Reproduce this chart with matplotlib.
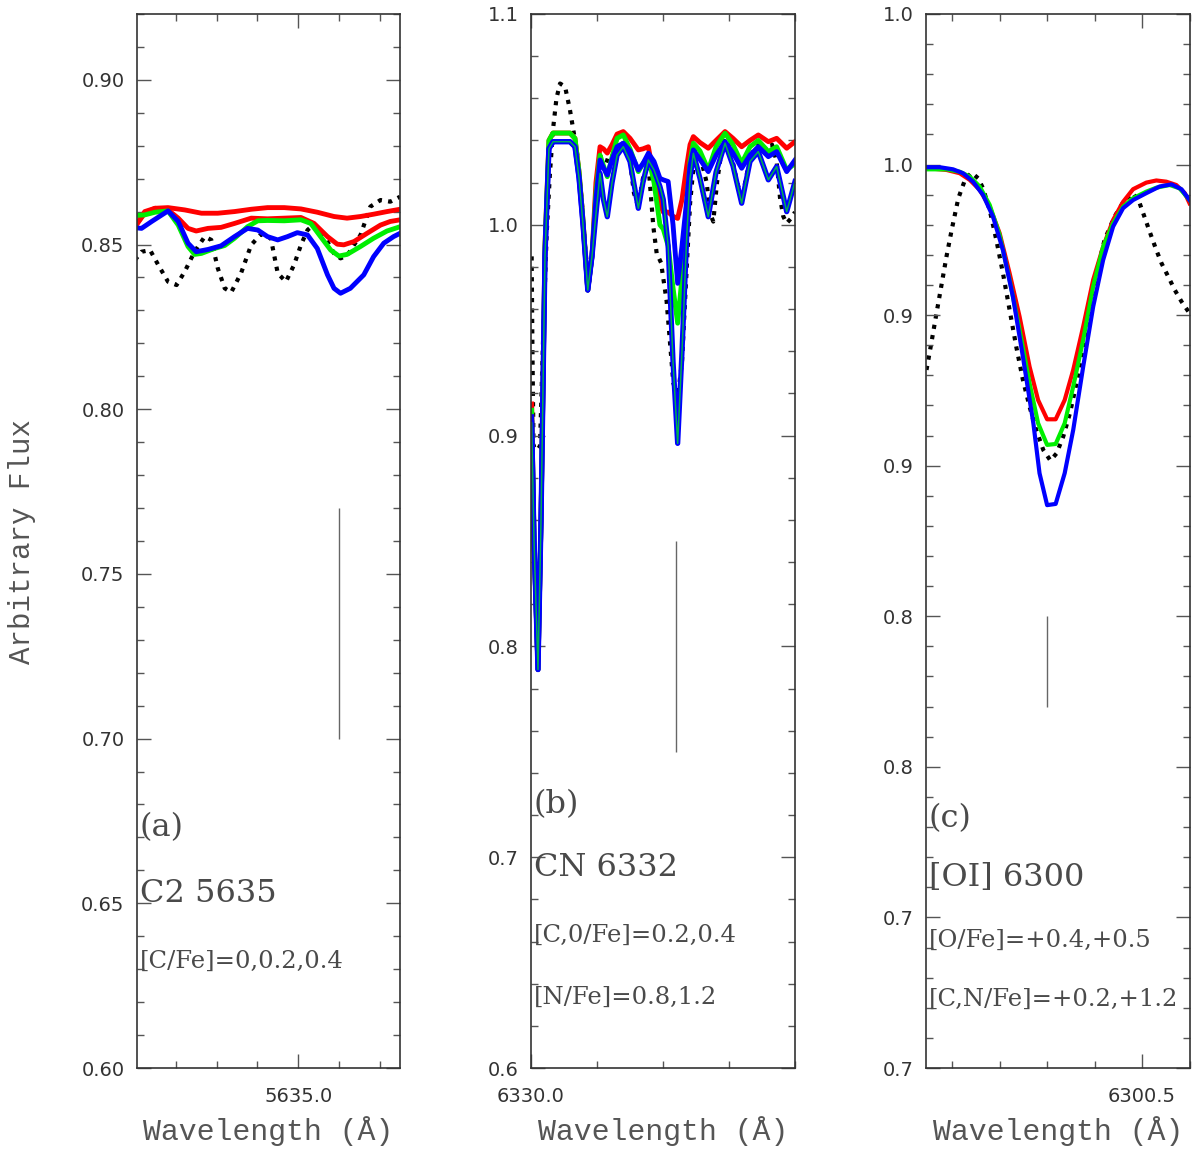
import numpy as np
import matplotlib
matplotlib.use('Agg')
import matplotlib.pyplot as plt
from matplotlib.ticker import MultipleLocator, FixedLocator, FixedFormatter, FormatStrFormatter

# ---------------- panel (a): C2 5635 ----------------
wave_a_red1 = [5634.600, 5634.624, 5634.649, 5634.681, 5634.722, 5634.763, 5634.803, 5634.844, 5634.885, 5634.925,
               5634.966, 5635.007, 5635.047, 5635.088, 5635.120, 5635.153, 5635.185, 5635.218, 5635.250]
flux_a_red1 = [0.8554, 0.8595, 0.8610, 0.8612, 0.8605, 0.8595, 0.8595, 0.8600, 0.8607, 0.8612,
               0.8612, 0.8608, 0.8598, 0.8585, 0.8580, 0.8585, 0.8592, 0.8600, 0.8607]

wave_a_red2 = [5634.600, 5634.624, 5634.649, 5634.681, 5634.706, 5634.730, 5634.750, 5634.779, 5634.811, 5634.844,
               5634.885, 5634.925, 5634.966, 5635.007, 5635.039, 5635.072, 5635.096, 5635.112, 5635.137, 5635.169,
               5635.202, 5635.226, 5635.250]
flux_a_red2 = [0.8554, 0.8600, 0.8610, 0.8605, 0.8580, 0.8549, 0.8541, 0.8549, 0.8552, 0.8564,
               0.8580, 0.8578, 0.8580, 0.8582, 0.8564, 0.8524, 0.8501, 0.8499, 0.8509, 0.8534,
               0.8559, 0.8570, 0.8575]

wave_a_green = [5634.600, 5634.624, 5634.649, 5634.681, 5634.706, 5634.730, 5634.746, 5634.763, 5634.795, 5634.820,
                5634.844, 5634.876, 5634.901, 5634.925, 5634.966, 5635.007, 5635.031, 5635.055, 5635.080, 5635.100,
                5635.120, 5635.153, 5635.185, 5635.218, 5635.250]
flux_a_green = [0.8588, 0.8590, 0.8598, 0.8602, 0.8559, 0.8494, 0.8470, 0.8473, 0.8488, 0.8497,
                0.8519, 0.8554, 0.8572, 0.8573, 0.8572, 0.8575, 0.8564, 0.8524, 0.8483, 0.8465,
                0.8470, 0.8494, 0.8519, 0.8541, 0.8554]

wave_a_blue = [5634.600, 5634.616, 5634.641, 5634.681, 5634.706, 5634.730, 5634.750, 5634.779, 5634.811, 5634.844,
               5634.876, 5634.901, 5634.925, 5634.950, 5634.974, 5634.998, 5635.023, 5635.047, 5635.072, 5635.088,
               5635.104, 5635.128, 5635.161, 5635.185, 5635.210, 5635.234, 5635.250]
flux_a_blue = [0.8551, 0.8549, 0.8570, 0.8602, 0.8570, 0.8504, 0.8478, 0.8485, 0.8496, 0.8524,
               0.8549, 0.8544, 0.8524, 0.8514, 0.8524, 0.8536, 0.8529, 0.8488, 0.8408, 0.8367,
               0.8352, 0.8367, 0.8408, 0.8463, 0.8504, 0.8524, 0.8534]

wave_a_obs = [5634.600, 5634.616, 5634.637, 5634.657, 5634.681, 5634.702, 5634.722, 5634.746, 5634.771, 5634.787,
              5634.803, 5634.820, 5634.836, 5634.860, 5634.885, 5634.909, 5634.933, 5634.950, 5634.970, 5634.990,
              5635.007, 5635.023, 5635.039, 5635.063, 5635.088, 5635.104, 5635.120, 5635.153, 5635.177, 5635.202,
              5635.226, 5635.250]
flux_a_obs = [0.8453, 0.8478, 0.8483, 0.8438, 0.8387, 0.8377, 0.8418, 0.8478, 0.8524, 0.8514,
              0.8428, 0.8367, 0.8355, 0.8413, 0.8499, 0.8531, 0.8519, 0.8413, 0.8387, 0.8438,
              0.8499, 0.8544, 0.8561, 0.8529, 0.8473, 0.8458, 0.8466, 0.8529, 0.8615, 0.8635,
              0.8630, 0.8645]

# ---------------- panel (b): CN 6332 ----------------
wave_b = [6330.005, 6330.023, 6330.053, 6330.076, 6330.106, 6330.136, 6330.167, 6330.220, 6330.295, 6330.333,
          6330.364, 6330.394, 6330.430, 6330.462, 6330.492, 6330.523, 6330.549, 6330.578, 6330.614, 6330.652,
          6330.699, 6330.750, 6330.813, 6330.848, 6330.889, 6330.932, 6330.977, 6331.002, 6331.039, 6331.076,
          6331.111, 6331.144, 6331.180, 6331.205, 6331.230, 6331.280, 6331.343, 6331.402, 6331.470, 6331.530,
          6331.596, 6331.659, 6331.722, 6331.798, 6331.861, 6331.937, 6332.000]
flux_b_red = [0.915, 0.850, 0.789, 0.860, 0.990, 1.040, 1.0435, 1.0435, 1.0435, 1.041,
              1.025, 1.002, 0.969, 0.985, 1.020, 1.037, 1.036, 1.034, 1.038, 1.043,
              1.0442, 1.041, 1.0355, 1.036, 1.037, 1.022, 1.010, 1.006, 1.006, 1.004,
              1.003, 1.012, 1.028, 1.038, 1.0418, 1.039, 1.0363, 1.040, 1.0442, 1.041,
              1.037, 1.040, 1.0426, 1.0394, 1.041, 1.0363, 1.0394]
flux_b_green = [0.912, 0.850, 0.789, 0.860, 0.990, 1.040, 1.0435, 1.0435, 1.0435, 1.041,
                1.025, 1.002, 0.969, 0.985, 1.015, 1.033, 1.028, 1.0228, 1.032, 1.041,
                1.0426, 1.036, 1.0252, 1.029, 1.0323, 1.020, 0.9999, 0.998, 0.990, 0.970,
                0.9533, 0.975, 1.010, 1.030, 1.0387, 1.035, 1.026, 1.037, 1.0434, 1.038,
                1.0292, 1.037, 1.040, 1.0347, 1.037, 1.026, 1.029]
flux_b_blue = [0.909, 0.850, 0.789, 0.860, 0.985, 1.036, 1.0394, 1.0394, 1.0394, 1.037,
               1.022, 1.000, 0.969, 0.985, 1.012, 1.0307, 1.027, 1.0236, 1.031, 1.037,
               1.0387, 1.035, 1.026, 1.029, 1.0339, 1.030, 1.022, 1.0213, 1.0205, 1.000,
               0.9722, 0.990, 1.0118, 1.028, 1.0355, 1.031, 1.0252, 1.033, 1.0394, 1.034,
               1.0268, 1.033, 1.037, 1.0323, 1.0347, 1.0252, 1.0307]
flux_b_low = [0.906, 0.850, 0.789, 0.860, 0.985, 1.036, 1.0394, 1.0394, 1.0394, 1.037,
              1.022, 1.000, 0.969, 0.985, 1.005, 1.0244, 1.012, 1.0038, 1.020, 1.033,
              1.037, 1.030, 1.0078, 1.020, 1.0307, 1.026, 1.0181, 1.012, 0.990, 0.935,
              0.8963, 0.940, 0.995, 1.022, 1.0339, 1.022, 1.0038, 1.025, 1.0387, 1.028,
              1.0102, 1.030, 1.0347, 1.0213, 1.0276, 1.0062, 1.0205]

wave_b_obs = [6330.005, 6330.011, 6330.019, 6330.045, 6330.068, 6330.093, 6330.119, 6330.144, 6330.169, 6330.193,
              6330.220, 6330.258, 6330.295, 6330.346, 6330.384, 6330.409, 6330.439, 6330.470, 6330.498, 6330.548,
              6330.598, 6330.652, 6330.699, 6330.750, 6330.780, 6330.813, 6330.848, 6330.889, 6330.927, 6330.952,
              6330.985, 6331.027, 6331.078, 6331.111, 6331.144, 6331.180, 6331.205, 6331.242, 6331.280, 6331.331,
              6331.356, 6331.381, 6331.409, 6331.445, 6331.470, 6331.508, 6331.558, 6331.596, 6331.629, 6331.659,
              6331.722, 6331.786, 6331.826, 6331.861, 6331.886, 6331.911, 6331.937, 6331.970, 6332.000]
flux_b_obs = [0.985, 0.940, 0.895, 0.893, 0.895, 0.949, 0.996, 1.025, 1.0465, 1.060,
              1.067, 1.0655, 1.0545, 1.0355, 1.012, 0.990, 0.972, 0.990, 1.015, 1.031,
              1.030, 1.038, 1.040, 1.030, 1.015, 1.0086, 1.022, 1.029, 0.999, 0.9865,
              0.982, 0.964, 0.925, 0.918, 0.935, 0.980, 1.010, 1.035, 1.033, 1.020,
              1.0055, 1.0015, 1.020, 1.0355, 1.041, 1.036, 1.021, 1.012, 1.022, 1.032,
              1.039, 1.0355, 1.038, 1.030, 1.013, 1.004, 1.0007, 1.003, 1.006]

# ---------------- panel (c): [OI] 6300 ----------------
wave_c_red = [6300.046, 6300.088, 6300.116, 6300.137, 6300.158, 6300.179, 6300.200, 6300.221, 6300.242, 6300.263,
              6300.281, 6300.300, 6300.318, 6300.337, 6300.355, 6300.376, 6300.397, 6300.418, 6300.439, 6300.460,
              6300.481, 6300.509, 6300.530, 6300.551, 6300.572, 6300.590, 6300.600]
flux_c_red = [0.9988, 0.9982, 0.9971, 0.9949, 0.9916, 0.9860, 0.9772, 0.9639, 0.9495, 0.9329,
              0.9218, 0.9154, 0.9154, 0.9218, 0.9318, 0.9462, 0.9617, 0.9727, 0.9816, 0.9876,
              0.9918, 0.9940, 0.9947, 0.9943, 0.9932, 0.9905, 0.9871]

wave_c_green = [6300.046, 6300.088, 6300.116, 6300.137, 6300.158, 6300.179, 6300.200, 6300.221, 6300.242, 6300.263,
                6300.281, 6300.300, 6300.318, 6300.337, 6300.355, 6300.376, 6300.397, 6300.418, 6300.439, 6300.460,
                6300.481, 6300.509, 6300.530, 6300.558, 6300.579, 6300.600]
flux_c_green = [0.9984, 0.9984, 0.9976, 0.9960, 0.9927, 0.9866, 0.9766, 0.9617, 0.9451, 0.9274,
                0.9141, 0.9069, 0.9072, 0.9141, 0.9263, 0.9418, 0.9595, 0.9727, 0.9805, 0.9860,
                0.9888, 0.9910, 0.9923, 0.9932, 0.9921, 0.9882]

wave_c_blue = [6300.046, 6300.074, 6300.102, 6300.123, 6300.144, 6300.165, 6300.186, 6300.207, 6300.228, 6300.249,
               6300.271, 6300.284, 6300.300, 6300.318, 6300.337, 6300.355, 6300.376, 6300.397, 6300.418, 6300.439,
               6300.460, 6300.481, 6300.509, 6300.537, 6300.562, 6300.583, 6300.600]
flux_c_blue = [0.9991, 0.9991, 0.9984, 0.9971, 0.9943, 0.9899, 0.9827, 0.9716, 0.9561, 0.9362,
               0.9141, 0.8975, 0.8869, 0.8873, 0.8975, 0.9119, 0.9329, 0.9528, 0.9683, 0.9794,
               0.9855, 0.9882, 0.9905, 0.9927, 0.9934, 0.9918, 0.9882]

wave_c_obs = [6300.046, 6300.056, 6300.067, 6300.077, 6300.088, 6300.099, 6300.113, 6300.127, 6300.141, 6300.155,
              6300.165, 6300.179, 6300.193, 6300.207, 6300.221, 6300.235, 6300.249, 6300.263, 6300.277, 6300.292,
              6300.307, 6300.320, 6300.334, 6300.348, 6300.362, 6300.376, 6300.390, 6300.404, 6300.421, 6300.442,
              6300.463, 6300.481, 6300.495, 6300.506, 6300.516, 6300.530, 6300.541, 6300.555, 6300.569, 6300.583,
              6300.600]
flux_c_obs = [0.9318, 0.9406, 0.9506, 0.9595, 0.9694, 0.9783, 0.9888, 0.9949, 0.9973, 0.9954,
              0.9921, 0.9849, 0.9750, 0.9639, 0.9517, 0.9395, 0.9285, 0.9196, 0.9119, 0.9052,
              0.9017, 0.9041, 0.9097, 0.9174, 0.9274, 0.9373, 0.9506, 0.9639, 0.9750, 0.9827,
              0.9882, 0.9905, 0.9871, 0.9822, 0.9777, 0.9716, 0.9672, 0.9628, 0.9583, 0.9545,
              0.9506]

# line-identification bars: (wavelength, flux bottom, flux top)
mark_a = (5635.10, 0.70, 0.77)
mark_b = (6331.10, 0.75, 0.85)
mark_c = (6300.30, 0.82, 0.85)

# tick labels of panel (c) as printed in the figure
yticks_c = [0.70, 0.75, 0.80, 0.85, 0.90, 0.95, 1.00, 1.05]
ylabels_c = ['0.7', '0.7', '0.8', '0.8', '0.9', '0.9', '1.0', '1.0']

texts_a = ['(a)', 'C2 5635', '[C/Fe]=0,0.2,0.4']
texts_b = ['(b)', 'CN 6332', '[C,0/Fe]=0.2,0.4', '[N/Fe]=0.8,1.2']
texts_c = ['(c)', '[OI] 6300', '[O/Fe]=+0.4,+0.5', '[C,N/Fe]=+0.2,+1.2']

RED, GREEN, BLUE = '#ff0000', '#00ee00', '#0000ff'
TXT = '#4a4a4a'
OBS = dict(color='black', lw=3.0, ls=(0, (1, 1.5)), dash_capstyle='butt', zorder=1)


def style_axis(ax, xlim, ylim, xmajor, xminor, yminor):
    ax.set_xlim(*xlim)
    ax.set_ylim(*ylim)
    ax.xaxis.set_major_locator(FixedLocator(xmajor))
    ax.xaxis.set_minor_locator(MultipleLocator(xminor))
    ax.xaxis.set_major_formatter(FormatStrFormatter('%.1f'))
    ax.yaxis.set_minor_locator(MultipleLocator(yminor))
    ax.tick_params(which='both', direction='in', top=True, right=True,
                   color='#555555', width=1.0)
    ax.tick_params(which='major', length=10)
    ax.tick_params(which='minor', length=5)
    ax.tick_params(axis='y', pad=9, labelsize=14, labelcolor='#333333')
    ax.tick_params(axis='x', pad=14, labelsize=14, labelcolor='#333333')
    for sp in ax.spines.values():
        sp.set_linewidth(1.2)
        sp.set_color('#333333')
    ax.text(0.5, -0.06, 'Wavelength (Å)', transform=ax.transAxes, ha='center', va='center',
            family='Liberation Mono', fontsize=21.5, color='#555555')


def put_texts(ax, labels, ypos, sizes):
    for lab, y, s in zip(labels, ypos, sizes):
        ax.text(0.01, y, lab, transform=ax.transAxes, ha='left', va='center',
                family='DejaVu Serif', fontsize=s, color=TXT)


fig = plt.figure(figsize=(12, 11.61), dpi=100)
ax1 = fig.add_axes([0.1142, 0.0801, 0.2192, 0.9079])
ax2 = fig.add_axes([0.4425, 0.0801, 0.2200, 0.9079])
ax3 = fig.add_axes([0.7717, 0.0801, 0.2196, 0.9079])

# (a)
ax1.plot(wave_a_obs, flux_a_obs, **OBS)
ax1.plot(wave_a_red1, flux_a_red1, color=RED, lw=3.5)
ax1.plot(wave_a_red2, flux_a_red2, color=RED, lw=3.5)
ax1.plot(wave_a_green, flux_a_green, color=GREEN, lw=3.5)
ax1.plot(wave_a_blue, flux_a_blue, color=BLUE, lw=3.5)
ax1.vlines(mark_a[0], mark_a[1], mark_a[2], color='#666666', lw=1.0)
style_axis(ax1, (5634.605, 5635.25), (0.60, 0.92), [5635.0], 0.1, 0.01)
ax1.yaxis.set_major_locator(MultipleLocator(0.05))
ax1.yaxis.set_major_formatter(FormatStrFormatter('%.2f'))
put_texts(ax1, texts_a, [0.228, 0.166, 0.101], [23, 23, 17.5])

# (b)
ax2.plot(wave_b_obs, flux_b_obs, **OBS)
ax2.plot(wave_b, flux_b_red, color=RED, lw=3.5)
ax2.plot(wave_b, flux_b_green, color=GREEN, lw=3.5)
ax2.plot(wave_b, flux_b_blue, color=BLUE, lw=3.5)
ax2.plot(wave_b, flux_b_low, color=BLUE, lw=3.8)
ax2.plot(wave_b, flux_b_low, color='#00b050', lw=1.1)
ax2.vlines(mark_b[0], mark_b[1], mark_b[2], color='#666666', lw=1.0)
style_axis(ax2, (6330.0, 6332.0), (0.60, 1.10), [6330.0], 0.5, 0.02)
ax2.yaxis.set_major_locator(MultipleLocator(0.1))
ax2.yaxis.set_major_formatter(FormatStrFormatter('%.1f'))
put_texts(ax2, texts_b, [0.250, 0.190, 0.126, 0.067], [23, 23, 17.5, 17.5])

# (c)
ax3.plot(wave_c_obs, flux_c_obs, **OBS)
ax3.plot(wave_c_red, flux_c_red, color=RED, lw=3.0)
ax3.plot(wave_c_green, flux_c_green, color=GREEN, lw=3.0)
ax3.plot(wave_c_blue, flux_c_blue, color=BLUE, lw=3.0)
ax3.vlines(mark_c[0], mark_c[1], mark_c[2], color='#666666', lw=1.0)
style_axis(ax3, (6300.045, 6300.60), (0.70, 1.05), [6300.5], 0.1, 0.01)
ax3.yaxis.set_major_locator(FixedLocator(yticks_c))
ax3.yaxis.set_major_formatter(FixedFormatter(ylabels_c))
put_texts(ax3, texts_c, [0.237, 0.181, 0.121, 0.065], [23, 23, 17.5, 17.5])

fig.text(22 / 1200, 0.534, 'Arbitrary Flux', rotation=90, ha='center', va='center',
         family='Liberation Mono', fontsize=21, color='#555555')

fig.savefig('out.png', dpi=100)
